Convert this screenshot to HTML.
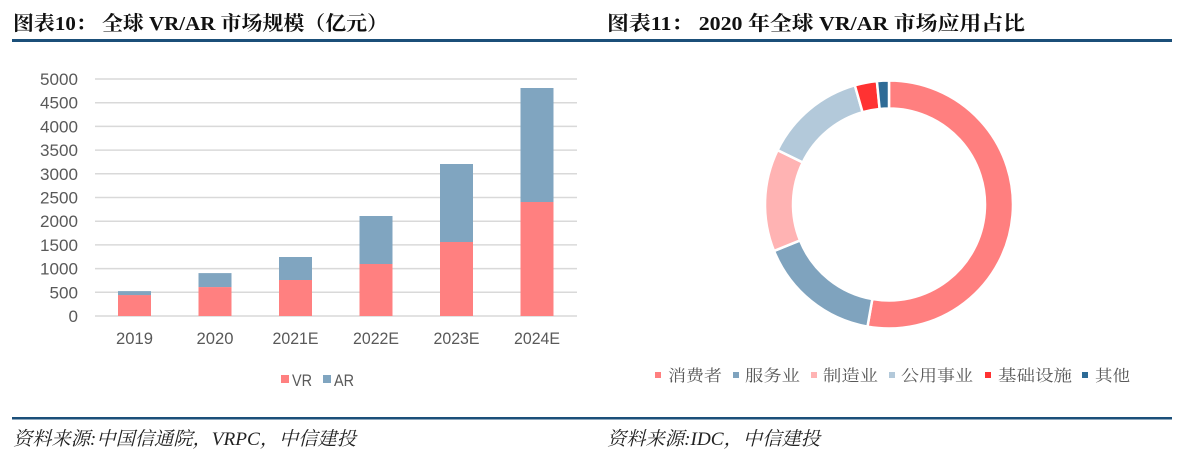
<!DOCTYPE html>
<html><head><meta charset="utf-8"><style>
html,body{margin:0;padding:0;background:#fff;}
svg{display:block;}
</style></head><body>
<svg width="1187" height="457" viewBox="0 0 1187 457" xmlns="http://www.w3.org/2000/svg">
<rect width="1187" height="457" fill="#fff"/>
<!-- titles -->
<g font-family="'Liberation Serif','Noto Serif CJK SC',serif" font-weight="bold" font-size="20" fill="#111">
<text x="13" y="30" textLength="375" lengthAdjust="spacingAndGlyphs">图表10： 全球 VR/AR 市场规模（亿元）</text>
<text x="607" y="30" textLength="418" lengthAdjust="spacingAndGlyphs">图表11： 2020 年全球 VR/AR 市场应用占比</text>
</g>
<rect x="12" y="39" width="1160" height="3" fill="#1b4f79"/>
<rect x="12" y="417" width="1160" height="2.5" fill="#1b4f79"/>
<!-- footers -->
<g font-family="'Liberation Serif','Noto Serif CJK SC',serif" font-style="italic" font-size="19" fill="#222">
<text x="13" y="445" textLength="343" lengthAdjust="spacingAndGlyphs">资料来源:中国信通院，VRPC，中信建投</text>
<text x="607" y="445" textLength="213" lengthAdjust="spacingAndGlyphs">资料来源:IDC，中信建投</text>
</g>
<!-- gridlines -->
<g stroke="#d9d9d9" stroke-width="1.5">
<line x1="95" x2="577" y1="79" y2="79"/>
<line x1="95" x2="577" y1="102.7" y2="102.7"/>
<line x1="95" x2="577" y1="126.4" y2="126.4"/>
<line x1="95" x2="577" y1="150.1" y2="150.1"/>
<line x1="95" x2="577" y1="173.8" y2="173.8"/>
<line x1="95" x2="577" y1="197.5" y2="197.5"/>
<line x1="95" x2="577" y1="221.2" y2="221.2"/>
<line x1="95" x2="577" y1="244.9" y2="244.9"/>
<line x1="95" x2="577" y1="268.6" y2="268.6"/>
<line x1="95" x2="577" y1="292.3" y2="292.3"/>
<line x1="95" x2="577" y1="316" y2="316"/>
</g>
<!-- y labels -->
<g font-family="'Liberation Sans',sans-serif" font-size="17" fill="#595959" text-anchor="end">
<text x="78" y="85" textLength="38" lengthAdjust="spacingAndGlyphs">5000</text>
<text x="78" y="108.7" textLength="38" lengthAdjust="spacingAndGlyphs">4500</text>
<text x="78" y="132.4" textLength="38" lengthAdjust="spacingAndGlyphs">4000</text>
<text x="78" y="156.1" textLength="38" lengthAdjust="spacingAndGlyphs">3500</text>
<text x="78" y="179.8" textLength="38" lengthAdjust="spacingAndGlyphs">3000</text>
<text x="78" y="203.5" textLength="38" lengthAdjust="spacingAndGlyphs">2500</text>
<text x="78" y="227.2" textLength="38" lengthAdjust="spacingAndGlyphs">2000</text>
<text x="78" y="250.9" textLength="38" lengthAdjust="spacingAndGlyphs">1500</text>
<text x="78" y="274.6" textLength="38" lengthAdjust="spacingAndGlyphs">1000</text>
<text x="78" y="298.3" textLength="28.5" lengthAdjust="spacingAndGlyphs">500</text>
<text x="78" y="322" textLength="9.5" lengthAdjust="spacingAndGlyphs">0</text>
</g>
<!-- bars -->
<g>
<rect x="118" y="291.1" width="33" height="4.3" fill="#80a5c0"/>
<rect x="118" y="295.1" width="33" height="20.9" fill="#ff8080"/>
<rect x="198.5" y="273.1" width="33" height="14.1" fill="#80a5c0"/>
<rect x="198.5" y="287.1" width="33" height="28.9" fill="#ff8080"/>
<rect x="279" y="257" width="33" height="23.2" fill="#80a5c0"/>
<rect x="279" y="280" width="33" height="36" fill="#ff8080"/>
<rect x="359.5" y="216" width="33" height="48.2" fill="#80a5c0"/>
<rect x="359.5" y="264" width="33" height="52" fill="#ff8080"/>
<rect x="440" y="164" width="33" height="78.2" fill="#80a5c0"/>
<rect x="440" y="242" width="33" height="74" fill="#ff8080"/>
<rect x="520.5" y="88" width="33" height="114.2" fill="#80a5c0"/>
<rect x="520.5" y="202" width="33" height="114" fill="#ff8080"/>
</g>
<!-- x labels -->
<g font-family="'Liberation Sans',sans-serif" font-size="17" fill="#595959" text-anchor="middle">
<text x="134.5" y="344" textLength="37" lengthAdjust="spacingAndGlyphs">2019</text>
<text x="215" y="344" textLength="37" lengthAdjust="spacingAndGlyphs">2020</text>
<text x="295.5" y="344" textLength="46" lengthAdjust="spacingAndGlyphs">2021E</text>
<text x="376" y="344" textLength="46" lengthAdjust="spacingAndGlyphs">2022E</text>
<text x="456.5" y="344" textLength="46" lengthAdjust="spacingAndGlyphs">2023E</text>
<text x="537" y="344" textLength="46" lengthAdjust="spacingAndGlyphs">2024E</text>
</g>
<!-- bar legend -->
<rect x="281" y="375" width="8" height="8" fill="#ff8080"/>
<rect x="323" y="375" width="8" height="8" fill="#80a5c0"/>
<g font-family="'Liberation Sans',sans-serif" font-size="17" fill="#595959">
<text x="292" y="386" textLength="20" lengthAdjust="spacingAndGlyphs">VR</text>
<text x="334" y="386" textLength="20" lengthAdjust="spacingAndGlyphs">AR</text>
</g>
<!-- donut -->
<g stroke="#fff" stroke-width="2.5" stroke-linejoin="miter">
<path d="M889,80.5 A124,124 0 1 1 867.47,326.62 L872.33,299.04 A96,96 0 1 0 889,108.5 Z" fill="#ff7f7f"/>
<path d="M867.47,326.62 A124,124 0 0 1 774.03,250.95 L799.99,240.46 A96,96 0 0 0 872.33,299.04 Z" fill="#7fa3be"/>
<path d="M774.03,250.95 A124,124 0 0 1 777.55,150.14 L802.72,162.42 A96,96 0 0 0 799.99,240.46 Z" fill="#ffb3b3"/>
<path d="M777.55,150.14 A124,124 0 0 1 854.82,85.30 L862.54,112.22 A96,96 0 0 0 802.72,162.42 Z" fill="#b3c9da"/>
<path d="M854.82,85.30 A124,124 0 0 1 876.90,81.09 L879.63,108.96 A96,96 0 0 0 862.54,112.22 Z" fill="#ff3232"/>
<path d="M876.90,81.09 A124,124 0 0 1 889,80.5 L889,108.5 A96,96 0 0 0 879.63,108.96 Z" fill="#2e6b96"/>
</g>
<!-- donut legend -->
<rect x="655" y="372" width="6" height="6" fill="#ff7f7f"/>
<rect x="733" y="372" width="6" height="6" fill="#7fa3be"/>
<rect x="811" y="372" width="6" height="6" fill="#ffb3b3"/>
<rect x="889" y="372" width="6" height="6" fill="#b3c9da"/>
<rect x="985" y="372" width="6" height="6" fill="#ff3232"/>
<rect x="1082" y="372" width="6" height="6" fill="#2e6b96"/>
<g font-family="'Liberation Serif','Noto Serif CJK SC',serif" font-size="16" fill="#595959">
<text x="668" y="381" textLength="54" lengthAdjust="spacingAndGlyphs">消费者</text>
<text x="745" y="381" textLength="55" lengthAdjust="spacingAndGlyphs">服务业</text>
<text x="823" y="381" textLength="55" lengthAdjust="spacingAndGlyphs">制造业</text>
<text x="901" y="381" textLength="72" lengthAdjust="spacingAndGlyphs">公用事业</text>
<text x="998" y="381" textLength="74" lengthAdjust="spacingAndGlyphs">基础设施</text>
<text x="1095" y="381" textLength="35" lengthAdjust="spacingAndGlyphs">其他</text>
</g>
</svg>
</body></html>
